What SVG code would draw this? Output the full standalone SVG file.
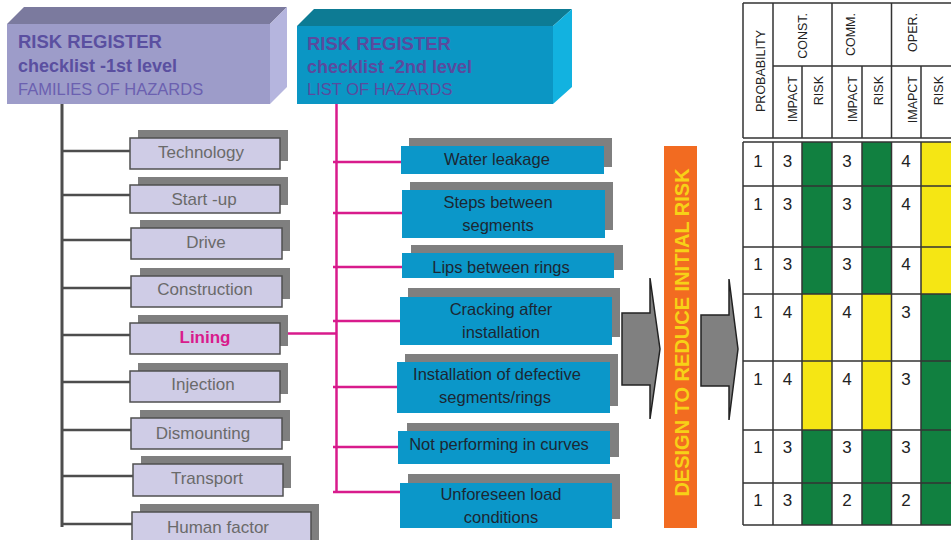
<svg xmlns="http://www.w3.org/2000/svg" width="951" height="540" viewBox="0 0 951 540">
<defs>
<style>
text{font-family:"Liberation Sans",Arial,sans-serif}
.hd{font-size:18px;font-weight:bold}
.hs{font-size:16.5px}
.fam{fill:#cfcce6;stroke:#505050;stroke-width:1.5}
.sh{fill:#7f7f7f}
.haz{fill:#0b97c9}
.lt{font-size:17px;fill:#6a6a6a;text-anchor:middle}
.bt{font-size:16.5px;fill:#1c2733;text-anchor:middle}
.gl{stroke:#4d4d4d;stroke-width:2.5;fill:none}
.mg{stroke:#d81b8c;stroke-width:2.5;fill:none}
.arr{fill:#808080;stroke:#222;stroke-width:1.5}
.tl{stroke:#333;stroke-width:1.5;fill:none}
.th{font-size:12.5px;fill:#222}
.num{font-size:17px;fill:#222;text-anchor:middle}
.gr{fill:#118040}
.ye{fill:#f5e614}
</style>
</defs>

<g id="header1">
<polygon points="7,24 24,7 287,7 270,24" fill="#7b7a9e"/>
<polygon points="270,24 287,7 287,87 270,104" fill="#b5b5de"/>
<rect x="7" y="24" width="263" height="80" fill="#9d9cc9"/>
<text x="18" y="48" class="hd" fill="#5a4fa0" style="font-size:18.5px">RISK REGISTER</text>
<text x="18" y="72" class="hd" fill="#5a4fa0">checklist -1st level</text>
<text x="18" y="95" class="hs" fill="#6b60b0">FAMILIES OF HAZARDS</text>
</g>

<g id="header2">
<polygon points="297,26 314,9 572,9 553,26" fill="#0d7b94"/>
<polygon points="553,26 572,9 572,87 553,104" fill="#12b2e0"/>
<rect x="297" y="26" width="256" height="78" fill="#0b96c4"/>
<text x="307" y="50" class="hd" fill="#5a4a9e" style="font-size:18.5px">RISK REGISTER</text>
<text x="307" y="73" class="hd" fill="#5a4a9e">checklist -2nd level</text>
<text x="307" y="95" class="hs" fill="#5a4a9e">LIST OF HAZARDS</text>
</g>

<g id="connectors">
<line class="gl" x1="62" y1="104" x2="62" y2="527" style="stroke-width:3"/>
<line class="gl" x1="62" y1="151" x2="130" y2="151"/>
<line class="gl" x1="62" y1="195" x2="130" y2="195"/>
<line class="gl" x1="62" y1="240" x2="131" y2="240"/>
<line class="gl" x1="62" y1="288" x2="131" y2="288"/>
<line class="gl" x1="62" y1="335" x2="130" y2="335"/>
<line class="gl" x1="62" y1="382" x2="130" y2="382"/>
<line class="gl" x1="62" y1="430" x2="131" y2="430"/>
<line class="gl" x1="62" y1="476" x2="133" y2="476"/>
<line class="gl" x1="62" y1="524" x2="132" y2="524"/>
<line class="mg" x1="336.5" y1="104" x2="336.5" y2="493"/>
<line class="mg" x1="287" y1="333.5" x2="336.5" y2="333.5"/>
<line class="mg" x1="333" y1="162" x2="401" y2="162"/>
<line class="mg" x1="333" y1="213" x2="402" y2="213"/>
<line class="mg" x1="333" y1="267" x2="402" y2="267"/>
<line class="mg" x1="333" y1="321" x2="400" y2="321"/>
<line class="mg" x1="333" y1="387" x2="397" y2="387"/>
<line class="mg" x1="333" y1="447" x2="398" y2="447"/>
<line class="mg" x1="333" y1="492" x2="400" y2="492"/>
<polygon class="arr" points="622,313 650,313 650,278 660,349 650,419 650,385 622,385"/>
<polygon class="arr" points="701,315 729,315 729,279 738,349 729,420 729,386 701,386"/>
</g>

<g id="fam-technology"><rect class="sh" x="138" y="130" width="150" height="31"/><rect class="fam" x="130" y="138" width="150" height="31"/><text class="lt" x="201" y="158">Technology</text></g>
<g id="fam-startup"><rect class="sh" x="138" y="177" width="150" height="28"/><rect class="fam" x="130" y="185" width="150" height="28"/><text class="lt" x="204" y="205">Start -up</text></g>
<g id="fam-drive"><rect class="sh" x="140" y="220" width="150" height="31"/><rect class="fam" x="131" y="228" width="151" height="31"/><text class="lt" x="206" y="248">Drive</text></g>
<g id="fam-construction"><rect class="sh" x="140" y="268" width="150" height="31"/><rect class="fam" x="131" y="276" width="151" height="31"/><text class="lt" x="205" y="295">Construction</text></g>
<g id="fam-lining"><rect class="sh" x="138" y="315" width="150" height="31"/><rect class="fam" x="130" y="323" width="150" height="31"/><text class="lt" x="205" y="343" style="fill:#d81b8c;font-weight:bold">Lining</text></g>
<g id="fam-injection"><rect class="sh" x="138" y="363" width="150" height="31"/><rect class="fam" x="130" y="371" width="150" height="31"/><text class="lt" x="203" y="390">Injection</text></g>
<g id="fam-dismounting"><rect class="sh" x="140" y="410" width="150" height="31"/><rect class="fam" x="131" y="418" width="151" height="31"/><text class="lt" x="203" y="439">Dismounting</text></g>
<g id="fam-transport"><rect class="sh" x="141" y="456" width="150" height="32"/><rect class="fam" x="133" y="464" width="150" height="32"/><text class="lt" x="207" y="484">Transport</text></g>
<g id="fam-human"><rect class="sh" x="140" y="504" width="179" height="40"/><rect class="fam" x="132" y="512" width="179" height="35"/><text class="lt" x="218" y="533">Human factor</text></g>

<g id="haz-water"><rect class="sh" x="409" y="138" width="203" height="29"/><rect class="haz" x="401" y="146" width="203" height="28"/><text class="bt" x="497" y="165">Water leakage</text></g>
<g id="haz-steps"><rect class="sh" x="410" y="182" width="203" height="48"/><rect class="haz" x="402" y="190" width="203" height="48"/><text class="bt" x="498" y="208">Steps between</text><text class="bt" x="498" y="231">segments</text></g>
<g id="haz-lips"><rect class="sh" x="411" y="245" width="212" height="25"/><rect class="haz" x="402" y="253" width="212" height="25"/><text class="bt" x="501" y="273">Lips between rings</text></g>
<g id="haz-cracking"><rect class="sh" x="408" y="288" width="212" height="49"/><rect class="haz" x="400" y="297" width="212" height="48"/><text class="bt" x="501" y="315">Cracking after</text><text class="bt" x="501" y="338">installation</text></g>
<g id="haz-installation"><rect class="sh" x="405" y="354" width="213" height="52"/><rect class="haz" x="397" y="362" width="213" height="51"/><text class="bt" x="497" y="380">Installation of defective</text><text class="bt" x="495" y="403">segments/rings</text></g>
<g id="haz-curves"><rect class="sh" x="407" y="423" width="212" height="34"/><rect class="haz" x="398" y="431" width="212" height="33"/><text class="bt" x="499" y="450">Not performing in curves</text></g>
<g id="haz-load"><rect class="sh" x="408" y="474" width="212" height="45"/><rect class="haz" x="400" y="483" width="212" height="45"/><text class="bt" x="501" y="500">Unforeseen load</text><text class="bt" x="501" y="523">conditions</text></g>

<g id="design-bar">
<rect x="664" y="146" width="33" height="382" fill="#f26b21"/>
<text transform="translate(688.5,332.5) rotate(-90)" text-anchor="middle" style="font-size:20px;font-weight:bold;fill:#f7d117">DESIGN TO REDUCE INITIAL RISK</text>
</g>

<g id="risk-table">
<rect class="gr" x="802" y="142" width="30" height="152"/>
<rect class="gr" x="862" y="142" width="29.5" height="152"/>
<rect class="ye" x="921" y="142" width="30" height="152"/>
<rect class="ye" x="802" y="294" width="30" height="136"/>
<rect class="ye" x="862" y="294" width="29.5" height="136"/>
<rect class="gr" x="921" y="294" width="30" height="231"/>
<rect class="gr" x="802" y="430" width="30" height="95"/>
<rect class="gr" x="862" y="430" width="29.5" height="95"/>
<path class="tl" d="M743,3H951M743,3V138M743,138H951M773,3V138M832,3V138M891.5,3V138M773,66H951M802,66V138M862,66V138M921,66V138"/>
<path class="tl" d="M743,142H951M743,186H951M743,247H951M743,294H951M743,361H951M743,430H951M743,483H951M743,525H951M743,142V525M773,142V525M802,142V525M832,142V525M862,142V525M891.5,142V525M921,142V525"/>
<text class="th" transform="translate(765,71) rotate(-90)" text-anchor="middle">PROBABILITY</text>
<text class="th" transform="translate(807,13) rotate(-90)" text-anchor="end">CONST.</text>
<text class="th" transform="translate(855,13) rotate(-90)" text-anchor="end">COMM.</text>
<text class="th" transform="translate(917,13) rotate(-90)" text-anchor="end">OPER.</text>
<text class="th" transform="translate(797,76) rotate(-90)" text-anchor="end">IMPACT</text>
<text class="th" transform="translate(823,76) rotate(-90)" text-anchor="end">RISK</text>
<text class="th" transform="translate(857,76) rotate(-90)" text-anchor="end">IMPACT</text>
<text class="th" transform="translate(883,76) rotate(-90)" text-anchor="end">RISK</text>
<text class="th" transform="translate(917,76) rotate(-90)" text-anchor="end">IMAPCT</text>
<text class="th" transform="translate(943,76) rotate(-90)" text-anchor="end">RISK</text>
<g class="num">
<text x="758" y="167">1</text><text x="787.5" y="167">3</text><text x="847" y="167">3</text><text x="906" y="167">4</text>
<text x="758" y="210">1</text><text x="787.5" y="210">3</text><text x="847" y="210">3</text><text x="906" y="210">4</text>
<text x="758" y="270">1</text><text x="787.5" y="270">3</text><text x="847" y="270">3</text><text x="906" y="270">4</text>
<text x="758" y="318">1</text><text x="787.5" y="318">4</text><text x="847" y="318">4</text><text x="906" y="318">3</text>
<text x="758" y="385">1</text><text x="787.5" y="385">4</text><text x="847" y="385">4</text><text x="906" y="385">3</text>
<text x="758" y="453">1</text><text x="787.5" y="453">3</text><text x="847" y="453">3</text><text x="906" y="453">3</text>
<text x="758" y="506">1</text><text x="787.5" y="506">3</text><text x="847" y="506">2</text><text x="906" y="506">2</text>
</g>
</g>
</svg>
